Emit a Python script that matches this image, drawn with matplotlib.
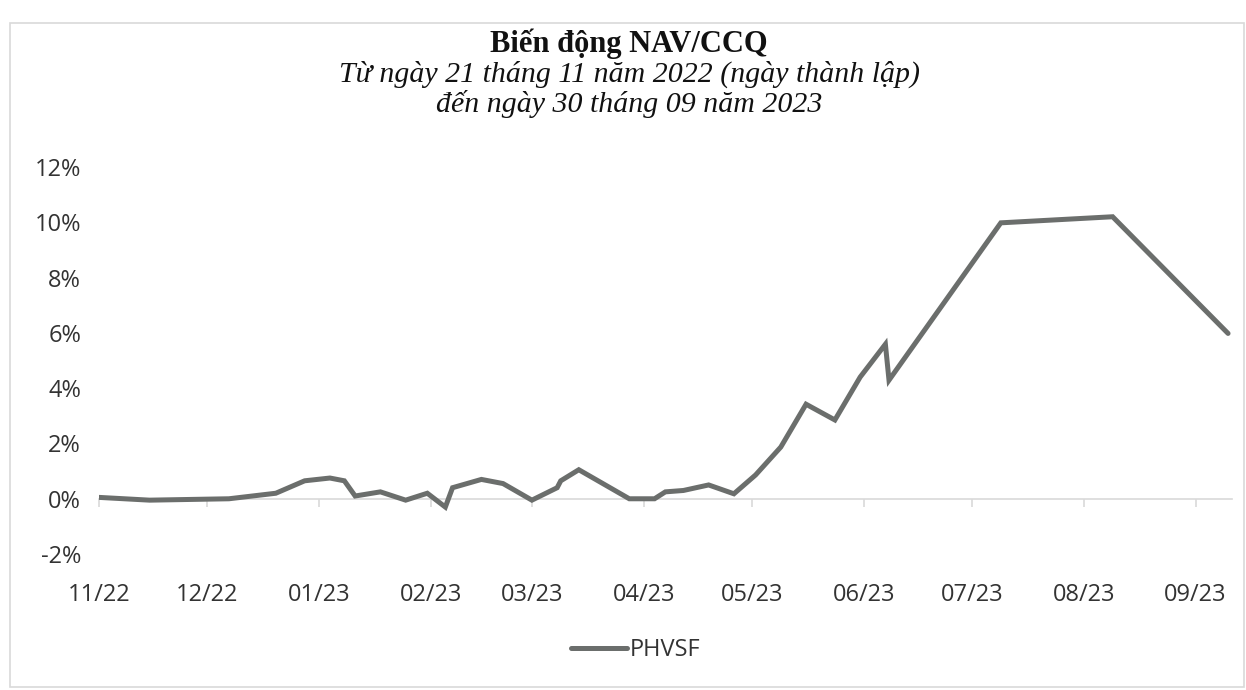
"""Biến động NAV/CCQ - PHVSF line chart."""

import matplotlib

matplotlib.use("Agg")
import matplotlib.dates as mdates
import matplotlib.pyplot as plt
import pandas as pd
from matplotlib.patches import Rectangle
from matplotlib.ticker import FuncFormatter, MultipleLocator

# NAV/CCQ change since launch (%)
dates = pd.to_datetime([
    "2022-11-21", "2022-12-05", "2022-12-27", "2023-01-09", "2023-01-17",
    "2023-01-24", "2023-01-28", "2023-01-31", "2023-02-07", "2023-02-14",
    "2023-02-20", "2023-02-25", "2023-02-27", "2023-03-07", "2023-03-13",
    "2023-03-21", "2023-03-28", "2023-03-29", "2023-04-03", "2023-04-17",
    "2023-04-24", "2023-04-27", "2023-05-02", "2023-05-09", "2023-05-16",
    "2023-05-22", "2023-05-29", "2023-06-05", "2023-06-13", "2023-06-20",
    "2023-06-27", "2023-06-28", "2023-07-29", "2023-08-29", "2023-09-30",
])
nav_change = [
    0.05, -0.05, 0.0, 0.2, 0.65,
    0.75, 0.65, 0.1, 0.25, -0.05,
    0.2, -0.3, 0.4, 0.7, 0.55,
    -0.05, 0.4, 0.65, 1.05, 0.0,
    0.0, 0.25, 0.3, 0.5, 0.18,
    0.86, 1.87, 3.42, 2.85, 4.40,
    5.59, 4.29, 9.98, 10.20, 5.98,
]
series_name = "PHVSF"
title = "Biến động NAV/CCQ"
subtitle = ["Từ ngày 21 tháng 11 năm 2022 (ngày thành lập)",
            "đến ngày 30 tháng 09 năm 2023"]

LINE_COLOR = "#6b6e6c"
AXIS_COLOR = "#d9d9d9"
TEXT_COLOR = "#333333"
LABEL_FONT = ["Open Sans", "DejaVu Sans"]
SERIF = ["Liberation Serif", "DejaVu Serif"]

y_min, y_max = -2, 12

fig = plt.figure(figsize=(12.46, 6.90), dpi=100)
ax = fig.add_axes([0.0795, 0.197, 0.909, 0.561])

ax.plot(dates, nav_change, color=LINE_COLOR, lw=3.6, solid_joinstyle="miter",
        solid_capstyle="round", label=series_name)

ax.set_ylim(y_min, y_max)
ax.set_xlim(dates[0], dates[-1] + pd.Timedelta(days=1))
ax.yaxis.set_major_locator(MultipleLocator(2))
ax.yaxis.set_major_formatter(FuncFormatter(lambda v, _: f"{v:.0f}%"))
ax.xaxis.set_major_locator(mdates.DayLocator(bymonthday=21))
ax.xaxis.set_major_formatter(mdates.DateFormatter("%m/%y"))

for side in ("top", "right", "left", "bottom"):
    ax.spines[side].set_visible(False)
ax.tick_params(axis="both", length=0, labelsize=17, colors=TEXT_COLOR)
ax.tick_params(axis="y", pad=13)
ax.tick_params(axis="x", pad=21)
for lab in ax.get_xticklabels() + ax.get_yticklabels():
    lab.set_fontfamily(LABEL_FONT)

# zero line carries the tick marks, labels stay at the bottom
zero_loc = (0 - y_min) / (y_max - y_min)
zero_axis = ax.secondary_xaxis(zero_loc)
zero_axis.xaxis.set_major_locator(mdates.DayLocator(bymonthday=21))
zero_axis.tick_params(direction="out", length=6, color=AXIS_COLOR, width=1.2,
                      labelbottom=False)
zero_axis.spines["bottom"].set_color(AXIS_COLOR)
zero_axis.spines["bottom"].set_linewidth(1.2)

fig.text(0.505, 0.937, title, ha="center", va="center", fontsize=22,
         fontweight="bold", family=SERIF, color="#111111")
fig.text(0.505, 0.892, subtitle[0], ha="center", va="center", fontsize=21.5,
         style="italic", family=SERIF, color="#111111")
fig.text(0.505, 0.849, subtitle[1], ha="center", va="center", fontsize=21.5,
         style="italic", family=SERIF, color="#111111")

leg = fig.legend(loc="center", bbox_to_anchor=(0.51, 0.058), frameon=False,
                 handlelength=2.4, handletextpad=0.1,
                 prop={"family": LABEL_FONT, "size": 17})
for t in leg.get_texts():
    t.set_color(TEXT_COLOR)

# chart area border
fig.patches.append(Rectangle((0.008, 0.004), 0.99, 0.962, transform=fig.transFigure,
                             fill=False, edgecolor=AXIS_COLOR, lw=1.2))

fig.savefig("out.png", dpi=100)
plt.close(fig)
